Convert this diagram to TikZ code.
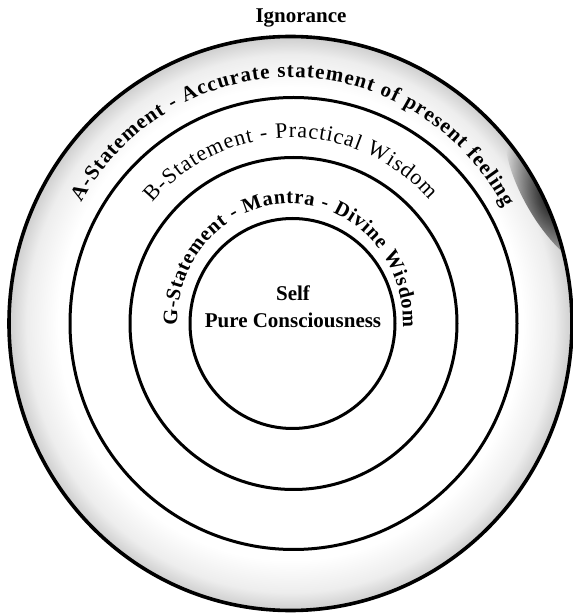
\documentclass[tikz,border=0pt]{standalone}
\usepackage{fontspec}
\setmainfont{Liberation Serif}
\usetikzlibrary{decorations.text,fadings}
\pgfdeclareradialshading{ringfade}{\pgfpoint{0bp}{0bp}}{color(0bp)=(white); color(20.5bp)=(white); color(23.3bp)=(black!7); color(24.7bp)=(black!18); color(25bp)=(black!18); color(50bp)=(black!18)}
\tikzfading[name=blobfade, inner color=transparent!0, outer color=transparent!100]
\begin{document}
\begin{tikzpicture}[x=1pt,y=1pt,
  ringline/.style={line width=3pt},
  arctext/.style={decorate, decoration={text along path, text align={fit to path}}},
  lbl/.style={font=\bfseries\fontsize{21}{27}\selectfont, align=center, inner sep=0pt}
  ]
\useasboundingbox (0,0) rectangle (573,614);
% stippled outer band
\begin{scope}
  \clip (290.5,290.5) ellipse [x radius=282.5, y radius=288];
  \shade[shading=ringfade] (290.5,290.5) ellipse [x radius=283, y radius=288.5];
  \fill[black, path fading=blobfade, rotate around={-60:(556,422)}] (556,422) ellipse [x radius=85, y radius=32];
\end{scope}
\fill[white] (293.5,290.5) ellipse [x radius=223.5, y radius=226];
% circles
\draw[line width=3.6pt] (290.5,290.5) ellipse [x radius=281.5, y radius=287];
\draw[ringline] (293.5,290.5) ellipse [x radius=223.5, y radius=226];
\draw[ringline] (293.5,290.5) ellipse [x radius=163.5, y radius=166];
\draw[ringline] (292.5,290.5) ellipse [x radius=102.5, y radius=105];
% labels
\node[lbl] (ign) at (301,596) {Ignorance};
\node[lbl] (self) at (293,307.5) {Self\\Pure Consciousness};
% arc texts
\path[arctext, decoration={text={|\bfseries\fontsize{21}{21}\selectfont|A-Statement - Accurate statement of present feeling}}]
  (291,290.5) ++(150.5:241 and 246) arc [start angle=150.5, end angle=28, x radius=241, y radius=246];
\path[arctext, decoration={text={|\fontsize{22}{22}\selectfont|B-Statement - Practical Wisdom}}]
  (292,290.5) ++(139.5:183 and 186) arc [start angle=139.5, end angle=41.5, x radius=183, y radius=186];
\path[arctext, decoration={text={|\bfseries\fontsize{20.5}{20.5}\selectfont|G-Statement - Mantra - Divine Wisdom}}]
  (290,290.5) ++(181:113 and 120) arc [start angle=181, end angle=-2, x radius=113, y radius=120];
\end{tikzpicture}
\end{document}
